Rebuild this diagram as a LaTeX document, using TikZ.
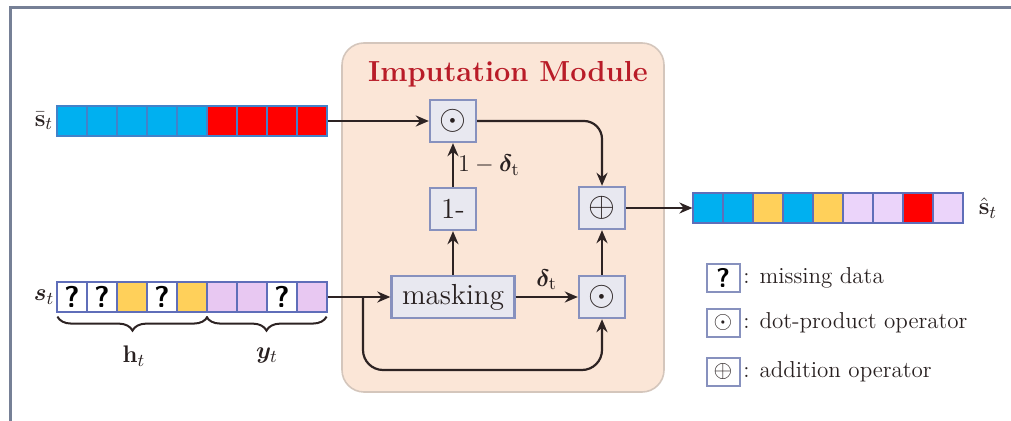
\documentclass[tikz,border=0pt]{standalone}
\usepackage{amsmath,bm}
\usetikzlibrary{arrows.meta,decorations.pathreplacing,calc}
\definecolor{framec}{RGB}{118,128,150}
\definecolor{modfill}{RGB}{251,230,215}
\definecolor{modline}{RGB}{212,198,188}
\definecolor{titlec}{RGB}{185,28,40}
\definecolor{cblue}{RGB}{0,176,240}
\definecolor{cred}{RGB}{255,0,0}
\definecolor{cyel}{RGB}{255,208,90}
\definecolor{cpink}{RGB}{232,200,242}
\definecolor{cpinkl}{RGB}{235,212,250}
\definecolor{cwhite}{RGB}{255,255,255}
\definecolor{cellline}{RGB}{95,110,185}
\definecolor{opline}{RGB}{135,145,190}
\definecolor{opfill}{RGB}{232,232,240}
\definecolor{linec}{RGB}{45,35,35}
\definecolor{txtc}{RGB}{40,32,32}
\tikzset{
  framestyle/.style={draw=framec,line width=1.5pt},
  module/.style={draw=modline,fill=modfill,line width=0.8pt,rounded corners=11pt},
  cell/.style={draw=cellline,line width=0.6pt,minimum width=15pt,minimum height=15pt,inner sep=0pt,
    font=\sffamily\bfseries\fontsize{15}{15}\selectfont,text=black},
  opbox/.style={draw=opline,fill=opfill,line width=1.2pt,minimum width=23pt,minimum height=21pt,
    inner sep=0pt,font=\fontsize{14.5}{15}\selectfont,text=txtc},
  opsym/.style={font=\fontsize{17}{17}\selectfont},
  legbox/.style={draw=opline,fill=white,line width=1pt,minimum width=16.5pt,minimum height=14pt,
    inner sep=0pt,font=\fontsize{12}{12}\selectfont,text=txtc},
  conn/.style={draw=linec,line width=1.1pt,-{Stealth[length=6.5pt,width=5.5pt]}},
  lbl/.style={text=txtc,font=\fontsize{13}{13}\selectfont,inner sep=1pt},
  legtxt/.style={text=txtc,font=\fontsize{11.5}{12}\selectfont,anchor=west,inner sep=0pt},
  bracestyle/.style={draw=linec,line width=1pt,decorate,decoration={brace,mirror,amplitude=7pt}}
}
\begin{document}
\begin{tikzpicture}[x=0.5pt,y=-0.5pt]
\useasboundingbox (0,0) rectangle (1011,421);
% slide frame
\draw[framestyle] (10,421) -- (10,8) -- (1011,8);

% imputation module panel
\draw[module] (342,43) rectangle (664,392);
\node[text=titlec,font=\bfseries\fontsize{14.5}{15}\selectfont] (title) at (508,74) {Imputation Module};

% state vector s-bar (top)
\foreach \c [count=\i] in {cblue,cblue,cblue,cblue,cblue,cred,cred,cred,cred}
  \node[cell,fill=\c,draw=cellline!70!cblue] (sb\i) at ({72+30*(\i-1)},121) {};
\node[lbl] (lsb) at (44,121) {$\bar{\mathbf{s}}_t$};

% observed vector s (bottom)
\foreach \c/\t [count=\i] in {cwhite/?,cwhite/?,cyel/,cwhite/?,cyel/,cpink/,cpink/,cwhite/?,cpink/}
  \node[cell,fill=\c] (s\i) at ({72+30*(\i-1)},297) {\t};
\node[lbl] (ls) at (44,297) {$\bm{s}_t$};

% braces under s
\draw[bracestyle] ($(s1.south west)+(1,4)$) -- ($(s5.south east)+(0,4)$);
\draw[bracestyle] ($(s6.south west)+(0,4)$) -- ($(s9.south east)+(-1,4)$);
\node[lbl] (lh) at (134,356) {$\mathbf{h}_t$};
\node[lbl] (ly) at (267,356) {$\bm{y}_t$};

% operators inside module
\node[opbox,opsym] (dtop) at (453,121) {$\odot$};
\node[opbox] (one) at (453,209) {1-};
\node[opbox,minimum width=61.5pt] (mask) at (453,297) {masking};
\node[opbox,opsym] (dbot) at (602,297) {$\odot$};
\node[opbox,opsym] (plus) at (602,208) {$\oplus$};

% output vector s-hat
\foreach \c [count=\i] in {cblue,cblue,cyel,cblue,cyel,cpinkl,cpinkl,cred,cpinkl}
  \node[cell,fill=\c] (o\i) at ({708+30*(\i-1)},208) {};
\node[lbl] (lo) at (988,208) {$\hat{\mathbf{s}}_t$};

% connectors
\draw[conn] (sb9.east) -- (dtop.west);
\draw[conn,rounded corners=9pt] (dtop.east) -| (plus.north);
\draw[conn] (one.north) -- node[lbl,right,xshift=1pt] (lone) {$1-\bm{\delta}_\mathrm{t}$} (dtop.south);
\draw[conn] (mask.north) -- (one.south);
\draw[conn] (s9.east) -- (mask.west);
\coordinate (fork) at (363,297);
\coordinate (loop) at (602,370);
\draw[conn,rounded corners=10pt] (fork) |- (loop) -- (dbot.south);
\draw[conn] (mask.east) -- node[lbl,above,yshift=2pt] (ldelta) {$\bm{\delta}_\mathrm{t}$} (dbot.west);
\draw[conn] (dbot.north) -- (plus.south);
\draw[conn] (plus.east) -- (o1.west);

% legend
\node[legbox,font=\sffamily\bfseries\fontsize{13.5}{13.5}\selectfont,text=black] (kq) at (723,278) {?};
\node[legtxt] (tq) at (743,278) {: missing data};
\node[legbox] (kd) at (723,323) {$\odot$};
\node[legtxt] (td) at (743,323) {: dot-product operator};
\node[legbox] (kp) at (723,372) {$\oplus$};
\node[legtxt] (tp) at (743,372) {: addition operator};
\end{tikzpicture}
\end{document}
